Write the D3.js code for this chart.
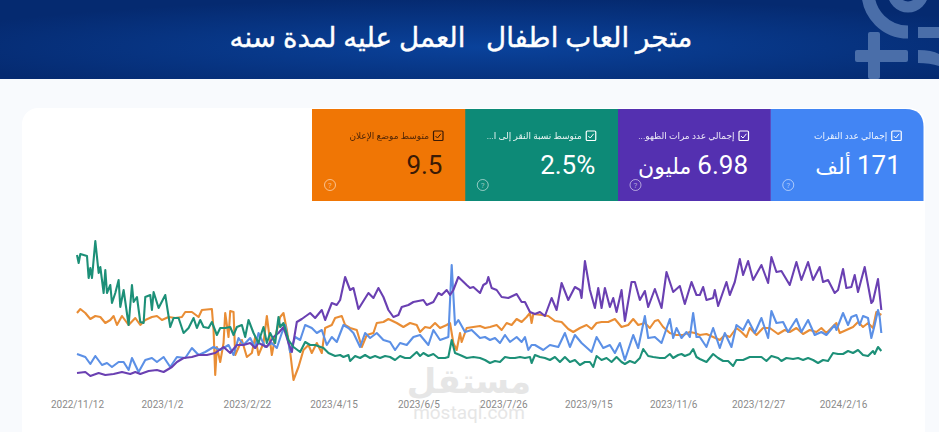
<!DOCTYPE html>
<html>
<head>
<meta charset="utf-8">
<script src="https://cdn.jsdelivr.net/npm/d3@7"></script>
<style>
html, body { margin: 0; padding: 0; background: #f8fafd; }
svg { display: block; }
</style>
</head>
<body>
<svg id="chart" width="939" height="432"></svg>
<script>
// x values are days since 2022/11/12, y values are relative (the chart has no y axis)
var tickDays = [0, 51, 102, 154, 205, 256, 307, 358, 409, 460];
var tickLabels = ["2022/11/12", "2023/1/2", "2023/2/22", "2023/4/15", "2023/6/5", "2023/7/26", "2023/9/15", "2023/11/6", "2023/12/27", "2024/2/16"];

var clicks = [[0,46],[5,43],[8,36],[11,44],[15,35],[18,37],[21,33],[25,38],[28,38],[31,30],[33,42],[37,28],[41,40],[45,42],[48,38],[52,43],[56,33],[60,43],[65,42],[69,52],[73,45],[77,48],[82,53],[86,50],[91,55],[94,45],[97,62],[100,55],[104,62],[107,52],[109,67],
  [113,53],[117,57],[120,52],[123,67],[125,75],[128,48],[131,63],[134,60],[137,75],[141,72],[144,67],[147,70],[150,55],[153,63],[156,58],[160,75],[163,72],[166,67],[170,53],[173,67],[176,62],[180,67],[184,60],[188,58],[191,50],[194,57],[198,55],[202,63],[206,65],[211,55],[214,70],[218,60],[223,63],[225,135],[227,75],[229,80],[233,68],[237,70],[242,62],
  [245,63],[248,60],[251,62],[254,57],[257,65],[260,58],[264,63],[267,58],[269,63],[271,50],[273,55],[275,55],[280,50],[284,55],[289,53],[293,67],[296,53],[299,65],[303,57],[309,48],[312,63],[316,52],[320,55],[323,47],[326,57],[329,40],[334,65],[337,52],[341,84],[343,62],[347,63],[351,57],[356,81],[358,62],[360,72],[363,62],[366,68],[368,63],[370,87],[372,63],
  [374,63],[378,53],[382,72],[386,52],[389,67],[393,53],[396,75],[400,70],[403,80],[407,67],[411,82],[415,62],[417,89],[420,77],[424,78],[427,68],[432,81],[435,68],[439,80],[443,65],[447,68],[450,65],[455,75],[456,70],[460,87],[463,75],[465,83],[468,85],[470,75],[472,84],[475,82],[477,62],[479,75],[481,90],[482,83],[483,67]];

var impressions = [[0,27],[5,28],[8,24],[13,27],[17,25],[22,26],[27,28],[32,26],[35,28],[38,26],[43,29],[48,30],[52,28],[57,33],[60,38],[64,42],[69,43],[73,45],[78,45],[83,47],[88,53],[92,47],[96,55],[100,55],[104,57],[107,52],[109,57],
  [114,53],[118,63],[121,67],[124,73],[127,57],[129,48],[132,78],[135,81],[140,87],[143,82],[147,90],[149,80],[153,97],[156,95],[158,100],[161,123],[164,110],[166,112],[169,91],[175,107],[178,102],[181,112],[184,103],[187,90],[190,83],[193,85],[195,93],[199,95],[202,98],[208,100],[210,95],[214,98],[217,107],[219,105],[222,110],[224,105],[226,110],[229,123],[234,115],[236,112],[238,113],[242,107],
  [244,115],[246,117],[247,123],[249,112],[252,110],[255,103],[259,102],[264,106],[267,98],[269,98],[272,88],[275,86],[278,88],[281,84],[285,102],[288,90],[291,117],[295,100],[299,113],[302,110],[303,102],[305,139],[308,110],[311,92],[313,112],[315,92],[317,112],[320,93],[322,102],[324,88],[327,110],[329,79],[333,118],[335,118],[338,100],[341,109],[343,93],[347,111],[351,92],[354,128],[358,108],[362,114],[365,96],[369,118],[372,105],
  [374,105],[376,113],[378,100],[382,102],[383,110],[385,94],[390,118],[392,105],[395,118],[398,141],[400,125],[403,139],[406,120],[411,135],[415,117],[417,143],[420,128],[423,129],[428,115],[432,138],[435,120],[439,138],[442,120],[446,133],[448,118],[451,120],[455,107],[457,110],[460,131],[462,112],[465,113],[467,125],[469,108],[473,133],[477,97],[478,99],[481,121],[483,90]];

var ctr = [[0,145],[1,137],[2,146],[6,144],[7,122],[8,132],[9,122],[11,159],[13,127],[14,133],[15,120],[16,107],[17,130],[18,107],[20,115],[21,97],[23,107],[25,120],[26,93],[28,110],[31,75],[33,115],[34,98],[36,103],[38,78],[40,77],[41,103],[44,105],[45,90],[46,108],[49,92],[53,105],[56,73],[58,82],[61,82],[64,67],[67,72],[70,82],[72,72],[74,80],[76,73],[79,72],[81,78],[84,65],[86,72],[89,72],[92,73],[94,65],[96,73],[99,75],[101,63],[103,80],[106,67],[109,57],
  [110,63],[112,73],[114,57],[116,67],[119,57],[121,83],[122,73],[124,77],[127,60],[130,53],[134,48],[137,58],[140,55],[143,55],[148,52],[151,47],[155,44],[158,45],[160,43],[163,45],[164,39],[167,44],[170,42],[173,45],[176,42],[179,44],[182,42],[185,44],[188,43],[191,40],[194,44],[197,42],[200,42],[204,48],[206,44],[208,47],[211,44],[214,46],[217,42],[221,42],[223,43],[225,60],[227,47],[230,45],[234,42],[238,43],[242,42],
  [245,40],[248,37],[251,39],[254,38],[257,43],[260,42],[263,42],[266,43],[269,42],[272,43],[273,37],[275,45],[278,43],[281,42],[284,40],[287,43],[290,38],[293,43],[296,38],[299,40],[302,35],[305,38],[308,38],[310,33],[312,44],[315,40],[318,42],[321,38],[324,43],[327,38],[329,36],[332,39],[335,37],[338,42],[340,51],[343,44],[346,43],[350,42],[353,42],[356,46],[358,42],[361,45],[363,46],[365,44],[368,46],[370,51],[372,43],[374,41],
  [378,38],[382,46],[385,42],[388,39],[391,39],[394,34],[396,40],[400,40],[404,43],[408,43],[411,43],[414,39],[417,44],[421,42],[423,39],[426,42],[430,41],[433,42],[436,40],[439,42],[442,40],[445,37],[448,40],[451,39],[454,47],[457,46],[460,46],[463,49],[466,47],[469,50],[472,45],[475,44],[478,49],[479,46],[481,53],[483,49]];

var position = [[0,87],[2,91],[5,87],[8,81],[11,84],[14,83],[17,77],[20,80],[22,84],[24,75],[27,84],[31,75],[35,82],[38,75],[41,80],[45,83],[48,84],[51,80],[55,83],[59,82],[63,83],[65,88],[69,88],[73,83],[75,90],[81,91],[82,70],[83,25],[84,53],[86,38],[88,57],[89,87],[91,63],[92,89],[94,88],[95,45],[99,60],[102,43],[105,47],[107,63],[109,45],
  [112,57],[114,84],[117,45],[119,63],[122,83],[124,87],[126,70],[128,48],[130,20],[133,33],[136,50],[139,55],[141,47],[144,57],[147,47],[149,72],[153,75],[155,82],[159,84],[161,75],[164,72],[168,70],[171,53],[174,65],[178,67],[180,77],[184,78],[187,81],[192,77],[196,73],[200,77],[204,75],[206,68],[209,73],[212,72],[215,77],[218,72],[222,75],[224,77],[226,57],[228,50],[230,67],[231,58],[234,72],[238,73],[242,74],
  [245,72],[248,73],[252,75],[255,70],[258,77],[261,75],[264,81],[267,78],[270,83],[272,87],[273,77],[274,86],[279,85],[283,84],[287,79],[291,78],[295,71],[298,68],[302,72],[306,75],[309,71],[312,77],[315,78],[319,78],[323,81],[327,73],[331,75],[334,81],[337,75],[341,77],[344,72],[347,79],[349,80],[352,73],[356,67],[360,65],[364,65],[368,68],[371,67],[374,65],
  [378,66],[382,63],[386,60],[389,65],[392,63],[396,72],[399,68],[402,63],[404,72],[408,65],[412,72],[416,72],[421,66],[425,70],[428,68],[432,72],[436,66],[440,70],[444,68],[447,72],[450,67],[453,72],[456,77],[458,67],[462,70],[466,73],[469,78],[472,73],[475,77],[478,72],[480,88],[483,85]];

var tileLabels = ["إجمالي عدد النقرات", "إجمالي عدد مرات الظهو...", "متوسط نسبة النقر إلى ا...", "متوسط موضع الإعلان"];
var tileValues = ["171", "6.98", "2.5%", "9.5"];
var tileUnits = ["ألف", "مليون", "", ""];
var tileColors = ["#4285f4", "#5430b0", "#0d8a77", "#f07605"];
var tileInk = ["#fff", "#fff", "#fff", "#3a1a06"];
var lineColors = ["#e98d35", "#5b90e6", "#6a40b2", "#1f9078"];

var width = 939, height = 432;
var svg = d3.select("#chart");
var font = "Roboto, 'DejaVu Sans', sans-serif";

var defs = svg.append("defs");
var grad = defs.append("radialGradient")
    .attr("id", "band")
    .attr("cx", "52%").attr("cy", "60%").attr("r", "62%");
grad.append("stop").attr("offset", "0%").attr("stop-color", "#0a429b");
grad.append("stop").attr("offset", "100%").attr("stop-color", "#052a70");

defs.append("clipPath")
    .attr("id", "bandClip")
    .append("rect")
    .attr("width", width)
    .attr("height", 79);

// the source is a soft screenshot, so the lines get a touch of blur
defs.append("filter")
    .attr("id", "soft")
    .append("feGaussianBlur")
    .attr("stdDeviation", 0.35);

// header band
svg.append("rect")
    .attr("width", width)
    .attr("height", 79)
    .attr("fill", "url(#band)");

var decoColor = "#4a6ea9";
var deco = svg.append("g")
    .attr("clip-path", "url(#bandClip)")
    .attr("fill", decoColor);
deco.append("circle")
    .attr("cx", 908).attr("cy", -8).attr("r", 15)
    .attr("fill", "none").attr("stroke", decoColor).attr("stroke-width", 11);
deco.append("path")
    .attr("d", "M868,-8A40,40 0 0 0 908,32")
    .attr("fill", "none").attr("stroke", decoColor).attr("stroke-width", 13);
deco.append("rect").attr("x", 868).attr("y", 32).attr("width", 12).attr("height", 47).attr("rx", 2);
deco.append("rect").attr("x", 855).attr("y", 50).attr("width", 53).attr("height", 12).attr("rx", 2);
deco.append("rect").attr("x", 918).attr("y", 27).attr("width", 21).attr("height", 11);
deco.append("path").attr("d", "M918,50Q932,50 939,54V66Q930,63 918,63Z");

svg.append("text")
    .attr("x", 461)
    .attr("y", 47)
    .attr("text-anchor", "middle")
    .attr("direction", "rtl")
    .attr("fill", "#fff")
    .attr("stroke", "#fff")
    .attr("stroke-width", 0.4)
    .attr("font-family", font)
    .attr("font-size", 27.7)
    .attr("xml:space", "preserve")
    .text("متجر العاب اطفال   العمل عليه لمدة سنه");

// white card behind tiles and lines
svg.append("rect")
    .attr("x", 22)
    .attr("y", 108)
    .attr("width", 903)
    .attr("height", 340)
    .attr("rx", 16)
    .attr("fill", "#fff");

// metric tiles, right to left
var tileX = d3.scaleBand()
    .domain(d3.range(tileLabels.length))
    .range([923, 312]);

var tiles = svg.selectAll("g.tile")
    .data(tileLabels)
    .enter()
    .append("g")
    .attr("class", "tile")
    .attr("transform", function(d, i) {
        return "translate(" + tileX(i) + ",109)";
    });

tiles.append("path")
    .attr("fill", function(d, i) { return tileColors[i]; })
    .attr("d", function(d, i) {
        var w = tileX.bandwidth() + 0.5;
        if (i == 0) {
            return "M0,0H" + (w - 18) + "Q" + w + ",0 " + w + ",18V92H0Z";
        }
        return "M0,0H" + w + "V92H0Z";
    });

// in rtl text, anchor "start" is the right-hand end
tiles.append("text")
    .attr("x", 117)
    .attr("y", 30)
    .attr("text-anchor", "start")
    .attr("direction", "rtl")
    .attr("font-family", font)
    .attr("font-size", 9)
    .attr("fill", function(d, i) { return tileInk[i]; })
    .attr("opacity", 0.9)
    .text(function(d) { return d; });

tiles.append("rect")
    .attr("x", 121.5)
    .attr("y", 22)
    .attr("width", 9.5)
    .attr("height", 9.5)
    .attr("rx", 1)
    .attr("fill", "none")
    .attr("stroke", function(d, i) { return tileInk[i]; })
    .attr("stroke-width", 1.2);

tiles.append("path")
    .attr("d", "M123.5,27l2,2l3.4,-4.2")
    .attr("fill", "none")
    .attr("stroke", function(d, i) { return tileInk[i]; })
    .attr("stroke-width", 1);

var valueText = tiles.append("text")
    .attr("x", 130.5)
    .attr("y", 65)
    .attr("text-anchor", "start")
    .attr("direction", "rtl")
    .attr("font-family", font)
    .attr("font-size", 26)
    .attr("fill", function(d, i) { return tileInk[i]; });

valueText.append("tspan")
    .text(function(d, i) { return tileValues[i]; });

valueText.append("tspan")
    .attr("font-size", 22)
    .attr("dx", function(d, i) { return tileUnits[i] ? -6 : 0; })
    .text(function(d, i) { return tileUnits[i]; });

tiles.append("circle")
    .attr("cx", 18)
    .attr("cy", 76)
    .attr("r", 5.5)
    .attr("fill", "none")
    .attr("stroke", "#fff")
    .attr("stroke-opacity", 0.55);

tiles.append("text")
    .attr("x", 18)
    .attr("y", 79)
    .attr("text-anchor", "middle")
    .attr("font-family", font)
    .attr("font-size", 8)
    .attr("fill", "#fff")
    .attr("fill-opacity", 0.55)
    .text("?");

// watermark goes under the lines
svg.append("text")
    .attr("x", 469)
    .attr("y", 393)
    .attr("text-anchor", "middle")
    .attr("font-family", font)
    .attr("font-weight", "bold")
    .attr("font-size", 34)
    .attr("fill", "#e6e6e6")
    .text("مستقل");

svg.append("text")
    .attr("x", 469)
    .attr("y", 419)
    .attr("text-anchor", "middle")
    .attr("font-family", font)
    .attr("font-size", 19)
    .attr("fill", "#e6e6e6")
    .text("mostaql.com");

var x = d3.scaleLinear()
    .domain([0, 484])
    .range([77, 883]);

var y = d3.scaleLinear()
    .domain([0, 170])
    .range([400, 230]);

var line = d3.line()
    .x(function(d) { return x(d[0]); })
    .y(function(d) { return y(d[1]); });

var series = [position, clicks, impressions, ctr];

svg.append("g")
    .attr("filter", "url(#soft)")
    .selectAll("path")
    .data(series)
    .enter()
    .append("path")
    .attr("fill", "none")
    .attr("stroke", function(d, i) { return lineColors[i]; })
    .attr("stroke-width", 2.1)
    .attr("stroke-linejoin", "round")
    .attr("d", line);

var xAxis = d3.axisBottom(x)
    .tickValues(tickDays)
    .tickSize(0)
    .tickFormat(function(d, i) { return tickLabels[i]; });

var axisG = svg.append("g")
    .attr("transform", "translate(0,398)")
    .call(xAxis);

axisG.select(".domain").remove();

axisG.selectAll("text")
    .attr("font-family", font)
    .attr("font-size", 10)
    .attr("fill", "#8a8a8a");
</script>
</body>
</html>
